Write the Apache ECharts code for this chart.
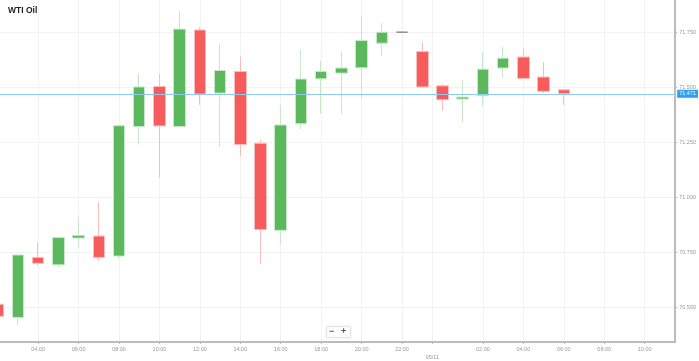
<!DOCTYPE html>
<html><head><meta charset="utf-8">
<script src="https://cdn.jsdelivr.net/npm/echarts@6/dist/echarts.min.js"></script>
<style>html,body{margin:0;padding:0;background:#fff}#c{width:699px;height:361px}</style>
</head><body><div id="c"></div>
<script>
// hours since 05/10 00:00
const hours  = [2,3,4,5,6,7,8,9,10,11,12,13,14,15,16,17,18,19,20,21,22,23,24,25,26,27,28,29,30];
const opens  = [70.513,70.453,70.726,70.692,70.814,70.823,70.732,71.321,71.503,71.321,71.760,71.473,71.571,71.245,70.849,71.334,71.538,71.564,71.588,71.700,71.750,71.662,71.506,71.446,71.461,71.587,71.637,71.546,71.488];
const closes = [70.458,70.737,70.699,70.816,70.826,70.726,71.325,71.501,71.324,71.764,71.469,71.576,71.239,70.853,71.328,71.537,71.571,71.587,71.712,71.750,71.750,71.501,71.443,71.455,71.582,71.632,71.540,71.481,71.471];
const lows   = [70.455,70.418,70.690,70.680,70.770,70.710,70.717,71.239,71.089,71.318,71.420,71.231,71.189,70.695,70.785,71.307,71.379,71.379,71.449,71.643,71.750,71.500,71.393,71.340,71.413,71.541,71.537,71.473,71.420];
const highs  = [70.515,70.737,70.793,70.816,70.911,70.977,71.325,71.561,71.561,71.847,71.773,71.697,71.639,71.260,71.419,71.670,71.621,71.662,71.825,71.791,71.750,71.705,71.515,71.534,71.662,71.682,71.673,71.614,71.490];

const xTickValues = [4,6,8,10,12,14,16,18,20,22,23.5,26,28,30,32,34];
const xTickLabels = ['04:00','06:00','08:00','10:00','12:00','14:00','16:00','18:00','20:00','22:00','05/11','02:00','04:00','06:00','08:00','10:00'];
const yTickValues = [70.5,70.75,71,71.25,71.5,71.75];
const lastPrice = 71.471;
const lastPriceLabel = '71.471';

const chart = echarts.init(document.getElementById('c'), null, {renderer:'canvas'});
const candles = hours.map((h,i)=>[h, opens[i], closes[i], lows[i], highs[i]]);
const FONT = 'Liberation Sans';

chart.setOption({
  animation:false,
  backgroundColor:'#fff',
  title:{text:'WTI Oil', left:8, top:6, padding:0, textStyle:{fontSize:8.5, fontWeight:'bold', color:'#222', fontFamily:FONT}},
  grid:{left:0, right:21, top:0, bottom:18, containLabel:false},
  xAxis:{
    type:'value', min:2.113, max:35.51,
    axisLine:{show:true, lineStyle:{color:'#bbb', width:2}},
    axisTick:{show:true, customValues:xTickValues, length:2, lineStyle:{color:'#bbb'}},
    splitLine:{show:true, lineStyle:{color:'#f2f2f2', width:1}},
    axisLabel:{customValues:xTickValues, color:'#999', fontSize:5.5, fontFamily:FONT, margin:3, lineHeight:8,
      formatter:(v)=>{const i=xTickValues.indexOf(v); const t=i>=0?xTickLabels[i]:''; return t==='05/11'?'\n'+t:t;}}
  },
  yAxis:{
    type:'value', position:'right', min:70.3413, max:71.8964,
    axisLine:{show:true, lineStyle:{color:'#bbb', width:2}},
    axisTick:{show:true, customValues:yTickValues, length:2, lineStyle:{color:'#bbb'}},
    splitLine:{show:true, lineStyle:{color:'#f2f2f2', width:1}},
    axisLabel:{customValues:yTickValues, color:'#999', fontSize:5.5, fontFamily:FONT, margin:4,
      formatter:(v)=>v.toFixed(3)}
  },
  series:[{
    type:'candlestick',
    data:candles,
    barWidth:12,
    clip:true,
    itemStyle:{
      color:'#5cb85c', color0:'#f75c5c',
      borderColor:'#c9e8c9', borderColor0:'#fbbcbc',
      borderColorDoji:'#888', borderWidth:1
    },
    markLine:{
      silent:true, symbol:['none','none'],
      lineStyle:{color:'#8ccaf0', width:1, type:'solid'},
      label:{show:true, position:'end', distance:2, formatter:lastPriceLabel,
        color:'#fff', backgroundColor:'#2f9ff0', fontSize:5.5, fontFamily:FONT, padding:[1,2,1,2]},
      data:[{yAxis:lastPrice}]
    }
  }],
  graphic:[
    {type:'rect', left:326, top:326, shape:{width:24, height:11, r:1},
      style:{fill:'#fff', stroke:'#e4e4e4', lineWidth:1, shadowBlur:2, shadowColor:'rgba(0,0,0,0.08)'}},
    {type:'text', left:329, top:327, style:{text:'−', fontSize:9, fontWeight:'bold', fill:'#555', fontFamily:FONT}},
    {type:'text', left:341, top:327, style:{text:'+', fontSize:9, fontWeight:'bold', fill:'#555', fontFamily:FONT}}
  ]
});
</script>
</body></html>
